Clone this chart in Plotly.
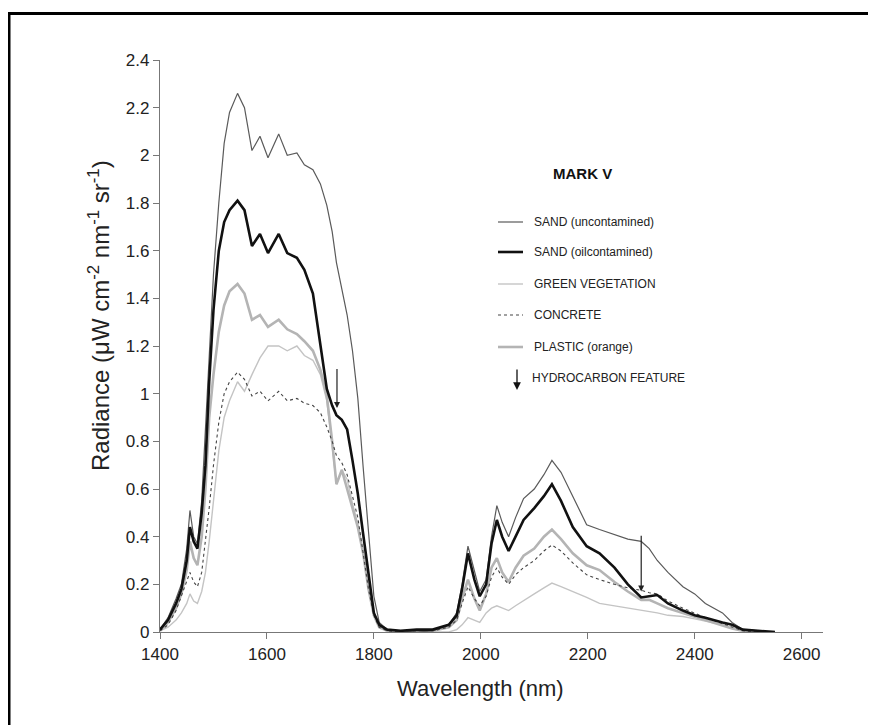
import plotly.graph_objects as go

# ---------------- data ----------------
wavelength = [1400, 1415, 1430, 1440, 1450, 1456, 1463, 1470, 1478, 1485, 1492, 1500, 1510, 1520, 1530,
              1545, 1558, 1572, 1587, 1602, 1622, 1638, 1656, 1670, 1686, 1700, 1712, 1722, 1730, 1740,
              1750, 1760, 1770, 1780, 1790, 1800, 1810, 1825, 1850, 1880, 1910, 1940, 1955, 1965, 1976,
              1988, 1998, 2010, 2020, 2030, 2040, 2052, 2065, 2080, 2100, 2118, 2133, 2150, 2172, 2198,
              2222, 2250, 2275, 2300, 2315, 2330, 2350, 2378, 2400, 2420, 2452, 2470, 2490, 2520, 2550]

sand_clean = [0.01, 0.06, 0.14, 0.2, 0.35, 0.51, 0.40, 0.37, 0.55, 0.85, 1.2, 1.5, 1.8, 2.05, 2.18,
              2.26, 2.2, 2.02, 2.08, 1.99, 2.09, 2.0, 2.01, 1.96, 1.94, 1.88, 1.79, 1.68, 1.55, 1.44,
              1.33, 1.18, 0.98, 0.69, 0.4, 0.15, 0.04, 0.01, 0.005, 0.0, 0.005, 0.03, 0.08, 0.2, 0.36,
              0.25, 0.17, 0.22, 0.4, 0.53, 0.46, 0.40, 0.48, 0.56, 0.6, 0.66, 0.72, 0.67, 0.57, 0.45,
              0.43, 0.41, 0.39, 0.38, 0.35, 0.3, 0.25, 0.19, 0.16, 0.12, 0.08, 0.04, 0.01, 0.005, 0.0]

sand_oil = [0.01, 0.05, 0.12, 0.18, 0.3, 0.44, 0.38, 0.35, 0.5, 0.7, 1.05, 1.35, 1.6, 1.72, 1.77,
            1.81, 1.77, 1.62, 1.67, 1.59, 1.67, 1.59, 1.57, 1.52, 1.42, 1.2, 1.02, 0.95, 0.91, 0.89,
            0.85, 0.72, 0.58, 0.41, 0.24, 0.08, 0.03, 0.01, 0.005, 0.01, 0.01, 0.03, 0.07, 0.18, 0.33,
            0.22, 0.15, 0.2, 0.37, 0.47, 0.40, 0.34, 0.40, 0.47, 0.52, 0.57, 0.62, 0.55, 0.44, 0.36,
            0.33, 0.27, 0.2, 0.145, 0.15, 0.155, 0.12, 0.09, 0.07, 0.06, 0.04, 0.03, 0.01, 0.005, 0.0]

vegetation = [0.005, 0.02, 0.05, 0.08, 0.12, 0.16, 0.13, 0.12, 0.17, 0.25, 0.38, 0.55, 0.76, 0.9, 0.97,
              1.05, 1.01, 1.08, 1.15, 1.2, 1.2, 1.18, 1.2, 1.16, 1.14, 1.08, 0.97, 0.78, 0.62, 0.68,
              0.64, 0.54, 0.45, 0.33, 0.18, 0.07, 0.02, 0.005, 0.0, 0.0, 0.0, 0.0, 0.01, 0.03, 0.06,
              0.05, 0.04, 0.08, 0.1, 0.11, 0.1, 0.09, 0.11, 0.13, 0.16, 0.185, 0.205, 0.19, 0.17, 0.145,
              0.12, 0.11, 0.1, 0.09, 0.085, 0.08, 0.07, 0.065, 0.055, 0.045, 0.03, 0.015, 0.005, 0.0, 0.0]

concrete = [0.005, 0.03, 0.09, 0.15, 0.21, 0.25, 0.21, 0.19, 0.25, 0.38, 0.52, 0.7, 0.88, 1.0, 1.05,
            1.09, 1.06, 0.99, 1.01, 0.97, 1.01, 0.97, 0.98, 0.96, 0.95, 0.92, 0.86, 0.8, 0.74, 0.71,
            0.66, 0.57, 0.48, 0.33, 0.18, 0.07, 0.02, 0.005, 0.0, 0.005, 0.005, 0.02, 0.05, 0.12, 0.19,
            0.14, 0.11, 0.15, 0.23, 0.27, 0.23, 0.2, 0.24, 0.27, 0.3, 0.34, 0.365, 0.34, 0.29, 0.24,
            0.22, 0.2, 0.185, 0.175, 0.165, 0.16, 0.13, 0.1, 0.08, 0.06, 0.035, 0.02, 0.005, 0.0, 0.0]

plastic = [0.005, 0.04, 0.1, 0.16, 0.26, 0.38, 0.31, 0.28, 0.4, 0.6, 0.9, 1.08, 1.26, 1.37, 1.43,
           1.46, 1.42, 1.31, 1.33, 1.28, 1.31, 1.27, 1.25, 1.22, 1.18, 1.1, 0.99, 0.8, 0.62, 0.68,
           0.6, 0.52, 0.44, 0.33, 0.18, 0.07, 0.02, 0.005, 0.0, 0.005, 0.005, 0.02, 0.05, 0.14, 0.22,
           0.14, 0.09, 0.16, 0.27, 0.31, 0.25, 0.21, 0.27, 0.32, 0.35, 0.4, 0.43, 0.39, 0.33, 0.28,
           0.26, 0.21, 0.17, 0.135, 0.135, 0.12, 0.1, 0.08, 0.065, 0.05, 0.03, 0.015, 0.005, 0.0, 0.0]

series_names = ["SAND (uncontamined)", "SAND (oilcontamined)", "GREEN VEGETATION", "CONCRETE", "PLASTIC (orange)"]

# hydrocarbon feature arrows
feature_wl = [1731, 2300]
feature_tail = [1.11, 0.41]
feature_tip = [0.94, 0.17]

x_ticks = [1400, 1600, 1800, 2000, 2200, 2400, 2600]
y_ticks = [0, 0.2, 0.4, 0.6, 0.8, 1, 1.2, 1.4, 1.6, 1.8, 2, 2.2, 2.4]
y_tick_labels = ["0", "0.2", "0.4", "0.6", "0.8", "1", "1.2", "1.4", "1.6", "1.8", "2", "2.2", "2.4"]

# ---------------- styles ----------------
styles = [
    dict(color="#5a5a5a", width=1.2, dash="solid"),
    dict(color="#111111", width=2.6, dash="solid"),
    dict(color="#c4c4c4", width=1.4, dash="solid"),
    dict(color="#444444", width=1.1, dash="dot"),
    dict(color="#b4b4b4", width=2.6, dash="solid"),
]
series_values = [sand_clean, sand_oil, vegetation, concrete, plastic]

fig = go.Figure()
order = [2, 4, 3, 0, 1]
for i in order:
    fig.add_trace(go.Scatter(x=wavelength, y=series_values[i], mode="lines",
                             name=series_names[i], line=styles[i], showlegend=False))

FONT = "Liberation Sans, Arial, sans-serif"

# page is drawn with an 8px body margin: figure sits at (8, 8)
W, H = 868, 717
L, T = 152, 52
PW, PH = 663, 572
R = W - L - PW
B = H - T - PH

# page-pixel -> paper helpers (page coords: plot spans x 160..823, y 60..632)
def px_x(px):
    return (px - 160) / PW


def px_y(py):
    return (632 - py) / PH


shapes = []
annotations = []

# outer frame (left and top edges visible)
shapes.append(dict(type="line", xref="paper", yref="paper", x0=px_x(9), x1=px_x(9), y0=px_y(13.5), y1=px_y(760),
                   line=dict(color="black", width=3)))
shapes.append(dict(type="line", xref="paper", yref="paper", x0=px_x(8), x1=px_x(900), y0=px_y(13.5), y1=px_y(13.5),
                   line=dict(color="black", width=3)))

# legend block
annotations.append(dict(text="<b>MARK V</b>", xref="paper", yref="paper", x=px_x(582), y=px_y(173),
                        showarrow=False, font=dict(family=FONT, size=15, color="#111"),
                        xanchor="center", yanchor="middle"))
leg_y = [222, 252, 284, 315, 347]
for i, name in enumerate(series_names):
    shapes.append(dict(type="line", xref="paper", yref="paper", x0=px_x(498), x1=px_x(523),
                       y0=px_y(leg_y[i]), y1=px_y(leg_y[i]), line=styles[i]))
    annotations.append(dict(text=name, xref="paper", yref="paper", x=px_x(532), y=px_y(leg_y[i]),
                            showarrow=False, font=dict(family=FONT, size=12, color="#222"),
                            xanchor="left", yanchor="middle"))
annotations.append(dict(text="", xref="paper", yref="paper", axref="pixel", ayref="pixel",
                        x=px_x(517), y=px_y(390), ax=0, ay=-22, showarrow=True,
                        arrowhead=2, arrowsize=1.2, arrowwidth=1.3, arrowcolor="#111"))
annotations.append(dict(text="HYDROCARBON FEATURE", xref="paper", yref="paper", x=px_x(530), y=px_y(378),
                        showarrow=False, font=dict(family=FONT, size=12, color="#222"),
                        xanchor="left", yanchor="middle"))

# feature arrows on data
for wl, tail, tip in zip(feature_wl, feature_tail, feature_tip):
    annotations.append(dict(text="", x=wl, y=tip, ax=wl, ay=tail, xref="x", yref="y",
                            axref="x", ayref="y", showarrow=True, arrowhead=2, arrowsize=1,
                            arrowwidth=1.2, arrowcolor="#222"))

# axis titles
annotations.append(dict(text="Wavelength (nm)", xref="paper", yref="paper", x=px_x(480), y=px_y(688),
                        showarrow=False, font=dict(family=FONT, size=22, color="#222"),
                        xanchor="center", yanchor="middle"))
annotations.append(dict(text="Radiance (μW cm<sup>-2</sup> nm<sup>-1</sup> sr<sup>-1</sup>)",
                        xref="paper", yref="paper", x=px_x(99), y=px_y(316), textangle=-90,
                        showarrow=False, font=dict(family=FONT, size=24, color="#222"),
                        xanchor="center", yanchor="middle"))

fig.update_layout(
    width=W, height=H,
    margin=dict(l=L, r=R, t=T, b=B),
    paper_bgcolor="white", plot_bgcolor="white",
    shapes=shapes, annotations=annotations,
    showlegend=False,
    xaxis=dict(range=[1400, 2640], tickvals=x_ticks, ticks="outside", ticklen=6, tickcolor="#777",
               showline=True, linecolor="#777", linewidth=1.3, showgrid=False, zeroline=False,
               tickfont=dict(family=FONT, size=17, color="#222")),
    yaxis=dict(range=[0, 2.4], tickvals=y_ticks, ticktext=y_tick_labels, ticks="outside", ticklen=6,
               tickcolor="#777", showline=True, linecolor="#777", linewidth=1.3, showgrid=False,
               zeroline=False, tickfont=dict(family=FONT, size=17, color="#222")),
)

fig.write_html("out.html")
